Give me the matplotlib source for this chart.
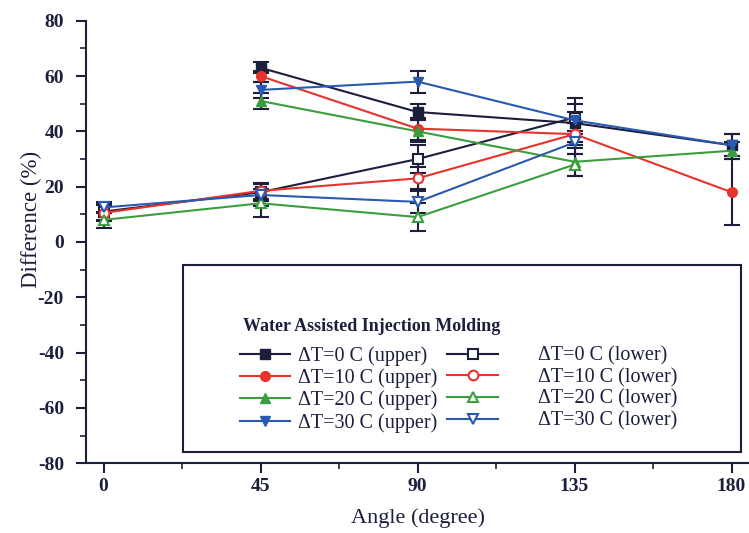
import matplotlib
matplotlib.use("Agg")
import matplotlib.pyplot as plt
from matplotlib.ticker import MultipleLocator
from matplotlib.patches import Rectangle

plt.rcParams['font.family'] = ['Liberation Serif', 'DejaVu Serif']
plt.rcParams['axes.unicode_minus'] = False

# angles where each surface was measured
angles_upper = [45, 90, 135, 180]
angles_lower = [0, 45, 90, 135]

# difference (%) for each temperature step, upper surface
dt0_upper = [63, 47, 43, 35]
dt10_upper = [60, 41, 39, 18]
dt20_upper = [51, 40, 29, 33]
dt30_upper = [55, 58, 44, 35]
err0_upper = [2, 3, 4, 4]
err10_upper = [2, 4, 4, 12]
err20_upper = [3, 4, 5, 3]
err30_upper = [3, 4, 8, 4]

# difference (%) for each temperature step, lower surface
dt0_lower = [11, 18, 30, 45]
dt10_lower = [10.5, 18.5, 23, 39]
dt20_lower = [8, 14, 9, 28]
dt30_lower = [12.5, 17, 14.5, 36]
err0_lower = [3, 3, 5, 5]
err10_lower = [3, 3, 4, 4]
err20_lower = [3, 5, 5, 4]
err30_lower = [2, 4, 4, 4]

labels = ['\u0394T=0 C', '\u0394T=10 C', '\u0394T=20 C', '\u0394T=30 C']
colors = ['#1c1f3c', '#e8332c', '#3a9e3e', '#2a59b0']
markers = ['s', 'o', '^', 'v']
ink = '#1c1f3c'

fig = plt.figure(figsize=(7.49, 5.33), dpi=100)
ax = fig.add_axes([0.115, 0.131, 0.885, 0.83])

uppers = [dt0_upper, dt10_upper, dt20_upper, dt30_upper]
lowers = [dt0_lower, dt10_lower, dt20_lower, dt30_lower]
upper_err = [err0_upper, err10_upper, err20_upper, err30_upper]
lower_err = [err0_lower, err10_lower, err20_lower, err30_lower]

up_handles = []
low_handles = []
for i in range(4):
    # error bars drawn in dark ink under the coloured lines
    ax.errorbar(angles_upper, uppers[i], yerr=upper_err[i], fmt='none',
                ecolor=ink, elinewidth=1.5, capsize=6, capthick=1.5, zorder=2)
    ax.errorbar(angles_lower, lowers[i], yerr=lower_err[i], fmt='none',
                ecolor=ink, elinewidth=1.5, capsize=6, capthick=1.5, zorder=2)
for i in range(4):
    h1, = ax.plot(angles_upper, uppers[i], color=colors[i], marker=markers[i],
                  markersize=7, linewidth=1.5, label=labels[i] + ' (upper)', zorder=3)
    h2, = ax.plot(angles_lower, lowers[i], color=colors[i], marker=markers[i],
                  markersize=7, linewidth=1.5, markerfacecolor='white',
                  markeredgewidth=1.5, label=labels[i] + ' (lower)', zorder=3)
    up_handles.append(h1)
    low_handles.append(h2)

ax.set_xlim(-5, 185)
ax.set_ylim(-80, 80)
ax.set_xticks([0, 45, 90, 135, 180])
ax.xaxis.set_minor_locator(MultipleLocator(22.5))
ax.yaxis.set_major_locator(MultipleLocator(20))
ax.yaxis.set_minor_locator(MultipleLocator(10))
ax.spines['top'].set_visible(False)
ax.spines['right'].set_visible(False)
for s in ['left', 'bottom']:
    ax.spines[s].set_linewidth(1.5)
    ax.spines[s].set_color(ink)
ax.tick_params(which='major', length=7, width=1.5, color=ink, labelsize=14)
ax.tick_params(axis='y', which='major', pad=9)
ax.tick_params(which='minor', length=4, width=1.2, color=ink)
for t in ax.get_xticklabels() + ax.get_yticklabels():
    t.set_fontweight('bold')
    t.set_color(ink)

ax.set_xlabel('Angle (degree)', fontsize=16, color=ink, labelpad=10)
ax.set_ylabel('Difference (%)', fontsize=16.5, color=ink, labelpad=-3, y=0.55)

# legend frame, with the title and two columns of entries inside it
ax.add_patch(Rectangle((0.146, 0.025), 0.842, 0.423, transform=ax.transAxes,
                       facecolor='white', edgecolor=ink, linewidth=1.5, zorder=4))
ax.text(0.237, 0.31, 'Water Assisted Injection Molding', transform=ax.transAxes,
        fontsize=13, fontweight='bold', color=ink, va='center', ha='left', zorder=5)

leg_kw = dict(loc='upper left', fontsize=14.5, frameon=False, handlelength=2.5,
              borderpad=0, borderaxespad=0, labelspacing=0.12, labelcolor=ink)
leg1 = ax.legend(handles=up_handles, bbox_to_anchor=(0.232, 0.264),
                 handletextpad=0.4, **leg_kw)
leg1.set_zorder(5)
ax.add_artist(leg1)
leg2 = ax.legend(handles=low_handles, bbox_to_anchor=(0.545, 0.264),
                 handletextpad=2.0, **leg_kw)
leg2.set_zorder(5)

fig.savefig('out.png', dpi=100)
